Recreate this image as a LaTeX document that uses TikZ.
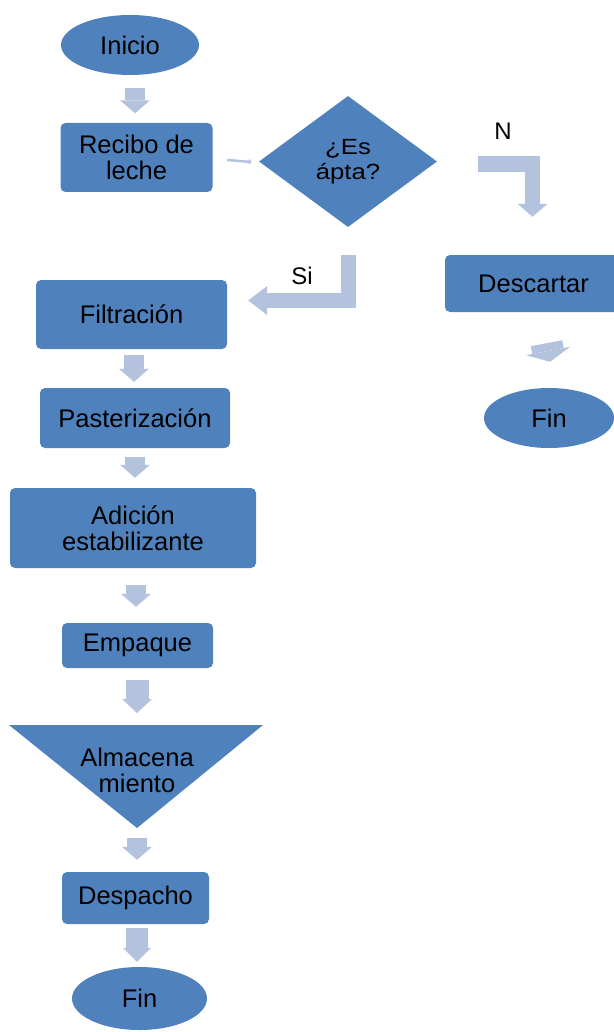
\documentclass[tikz,border=0pt]{standalone}
\usepackage{fontspec}
\setmainfont{Liberation Sans}
\newfontfamily\widesans[FakeStretch=1.17]{Liberation Sans}
\usetikzlibrary{shapes.geometric,arrows.meta}
\definecolor{boxblue}{HTML}{4F81BD}
\definecolor{arrowblue}{HTML}{B3C3DE}
\tikzset{
  base/.style={fill=boxblue, draw=none, inner sep=0pt, align=center, text=black,
    font=\fontsize{25.5}{26}\selectfont},
  stepbox/.style={base, rounded corners=5pt},
  oval/.style={base, ellipse},
  decision/.style={base, diamond, font=\widesans\fontsize{22}{25}\selectfont},
  label/.style={inner sep=0pt, text=black, font=\fontsize{24}{26}\selectfont},
  barrow/.style={draw=arrowblue, line width=20pt, line cap=butt, line join=miter,
    -{Triangle[width=30pt,length=13pt,line width=0pt]}},
  thinarrow/.style={draw=arrowblue, line width=2.5pt,
    -{Triangle[width=6pt,length=3pt,line width=0pt]}}
}
\begin{document}
\begin{tikzpicture}[x=1pt,y=-1pt]
\useasboundingbox (0,0) rectangle (613,1032);

% main column
\node[oval, minimum width=138, minimum height=60] (inicio) at (130,45) {Inicio};
\node[stepbox, minimum width=152, minimum height=69] (recibo) at (136.5,157.5) {Recibo de\\leche};
\node[decision, minimum width=178, minimum height=131] (dia) at (348,161.5) {¿Es\\ápta?};
\node[stepbox, minimum width=191, minimum height=69] (filt) at (131.5,314.5) {Filtración};
\node[stepbox, minimum width=190, minimum height=60] (past) at (135,418) {Pasterización};
\node[stepbox, minimum width=246, minimum height=80] (adic) at (133,528) {Adición\\estabilizante};
\node[stepbox, minimum width=151, minimum height=45] (emp) at (137.5,645.5) {Empaque};

% storage triangle
\coordinate (tl) at (9,725);
\coordinate (tr) at (263,725);
\coordinate (tritip) at (137,828);
\coordinate (tritop) at (137,725);
\fill[boxblue] (tl) -- (tr) -- (tritip) -- cycle;
\node[base, fill=none] (alm) at (137,770) {Almacena\\miento};

\node[stepbox, minimum width=147, minimum height=52] (desp) at (135.5,898) {Despacho};
\node[oval, minimum width=135, minimum height=63] (fin) at (139.5,998.5) {Fin};

% rejection branch
\node[stepbox, minimum width=177, minimum height=57] (desc) at (533.5,283.5) {Descartar};
\node[oval, minimum width=130, minimum height=60] (fin2) at (549,418) {Fin};

% labels
\node[label] (lN) at (503,131) {N};
\node[label] (lSi) at (302,276) {Si};

% connectors
\draw[barrow] ([shift={(5,13)}]inicio.south) -- ([shift={(-1.5,-9.5)}]recibo.north);
\draw[thinarrow] ([shift={(14.5,2.5)}]recibo.east) -- ([shift={(-7,0.5)}]dia.west);
\draw[barrow, line width=15.5pt] ([shift={(41,2.5)}]dia.east) -| ([shift={(-1,-38)}]desc.north);
\draw[barrow, line width=15pt, -{Triangle[width=29pt,length=19pt,line width=0pt]}]
  ([shift={(0.5,28)}]dia.south) |- ([shift={(21,-14)}]filt.east);
\draw[barrow] ([shift={(2.5,6)}]filt.south) -- ([shift={(-1,-6)}]past.north);
\draw[barrow] ([shift={(0,9)}]past.south) -- ([shift={(2,-10)}]adic.north);
\draw[barrow] ([shift={(3,17)}]adic.south) -- ([shift={(-1.5,-16)}]emp.north);
\draw[barrow, line width=23pt, -{Triangle[width=30pt,length=14pt,line width=0pt]}]
  ([shift={(-0.5,12)}]emp.south) -- ([shift={(0,-12)}]tritop);
\draw[barrow] ([shift={(0,10)}]tritip) -- ([shift={(1.5,-12)}]desp.north);
\draw[barrow, line width=22pt, -{Triangle[width=28pt,length=14pt,line width=0pt]}]
  ([shift={(1.5,4)}]desp.south) -- ([shift={(-2.5,-5)}]fin.north);
\draw[barrow, line width=32pt, -{Triangle[width=45pt,length=11pt,line width=0pt]}]
  ([shift={(13,31)}]desc.south) -- ([shift={(1,-26)}]fin2.north);
\end{tikzpicture}
\end{document}
